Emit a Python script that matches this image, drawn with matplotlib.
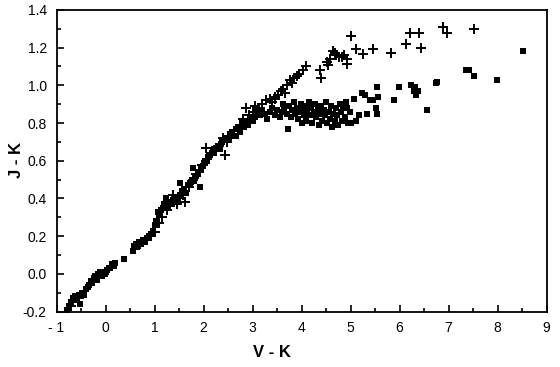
import matplotlib
matplotlib.use("Agg")
import matplotlib.pyplot as plt
from matplotlib.ticker import MultipleLocator, FixedLocator

# Squares (filled) : V-K, J-K
vk_sq = [-0.78, -0.74, -0.70, -0.66, -0.62, -0.58, -0.55, -0.52, -0.50, -0.47, -0.44, -0.40,
         -0.36, -0.33, -0.30, -0.27, -0.24, -0.21, -0.18, -0.15, -0.12, -0.08, -0.05, -0.02,
         0.02, 0.06, 0.10, 0.13, 0.17, 0.20, 0.37, 0.55, 0.58, 0.62, 0.65, 0.68, 0.72, 0.76,
         0.80, 0.84, 0.88, 0.92, 0.96, 1.00, 1.03, 1.07, 1.10, 1.13, 1.17, 1.20, 1.23, 1.26,
         1.30, 1.33, 1.37, 1.40, 1.44, 1.48, 1.52, 1.52, 1.56, 1.60, 1.64, 1.68, 1.72, 1.76,
         1.79, 1.80, 1.84, 1.88, 1.92, 1.94, 1.98, 2.02, 2.06, 2.10, 2.14, 2.18, 2.22, 2.26,
         2.30, 2.34, 2.38, 2.42, 2.46, 2.50, 2.54, 2.58, 2.62, 2.66, 2.70, 2.74, 2.78, 2.82,
         2.86, 2.90, 2.95, 3.00,
         3.05, 3.10, 3.15, 3.20, 3.25, 3.30, 3.35, 3.40, 3.45, 3.50, 3.55, 3.60, 3.62, 3.65,
         3.70, 3.73, 3.75, 3.78, 3.80, 3.84, 3.86, 3.90, 3.92, 3.95, 3.98, 4.00, 4.02, 4.05,
         4.08, 4.10, 4.12, 4.15, 4.18, 4.20, 4.22, 4.25, 4.28, 4.30, 4.33, 4.35, 4.38, 4.40,
         4.42, 4.45, 4.48, 4.50, 4.52, 4.55, 4.58, 4.60, 4.62, 4.65, 4.68, 4.70, 4.72, 4.75,
         4.78, 4.80, 4.82, 4.85, 4.88, 4.90, 4.92, 4.95, 4.98, 5.01, 5.07, 5.11, 5.18, 5.23,
         5.30, 5.34, 5.39, 5.45, 5.52, 5.54, 5.54, 5.57, 5.88, 5.99, 6.24, 6.29, 6.32, 6.33,
         6.37, 6.55, 6.74, 6.77, 7.35, 7.41, 7.52, 7.99, 8.52]
jk_sq = [-0.19, -0.17, -0.15, -0.13, -0.12, -0.14, -0.11, -0.16, -0.12, -0.10, -0.11, -0.08,
         -0.07, -0.06, -0.04, -0.05, -0.02, -0.01, -0.03, 0.00, 0.01, -0.01, 0.01, 0.00,
         0.02, 0.03, 0.03, 0.05, 0.04, 0.06, 0.08, 0.12, 0.15, 0.16, 0.14, 0.17, 0.16, 0.18,
         0.17, 0.19, 0.20, 0.21, 0.23, 0.26, 0.28, 0.33, 0.31, 0.34, 0.35, 0.37, 0.40, 0.36,
         0.38, 0.37, 0.39, 0.40, 0.41, 0.38, 0.42, 0.48, 0.44, 0.45, 0.43, 0.47, 0.48, 0.50,
         0.56, 0.49, 0.52, 0.53, 0.46, 0.55, 0.57, 0.59, 0.60, 0.62, 0.63, 0.64, 0.66, 0.67,
         0.68, 0.66, 0.70, 0.71, 0.72, 0.71, 0.74, 0.75, 0.73, 0.77, 0.78, 0.76, 0.80, 0.78,
         0.81, 0.79, 0.82, 0.81,
         0.83, 0.86, 0.84, 0.87, 0.85, 0.82, 0.86, 0.88, 0.84, 0.87, 0.83, 0.86, 0.90, 0.88,
         0.85, 0.77, 0.89, 0.83, 0.87, 0.91, 0.85, 0.88, 0.82, 0.86, 0.90, 0.80, 0.87, 0.84,
         0.89, 0.81, 0.86, 0.91, 0.84, 0.88, 0.80, 0.86, 0.90, 0.83, 0.87, 0.79, 0.85, 0.89,
         0.81, 0.87, 0.84, 0.91, 0.80, 0.86, 0.82, 0.89, 0.78, 0.85, 0.81, 0.88, 0.84, 0.79,
         0.90, 0.86, 0.81, 0.88, 0.83, 0.91, 0.88, 0.80, 0.86, 0.80, 0.93, 0.81, 0.84, 0.96,
         0.95, 0.85, 0.92, 0.92, 0.88, 0.85, 0.99, 0.94, 0.92, 0.99, 1.00, 0.97, 0.99, 0.95,
         0.97, 0.87, 1.01, 1.02, 1.08, 1.08, 1.05, 1.03, 1.18]

# Plus signs : V-K, J-K
vk_plus = [-0.70, -0.45, -0.25, -0.10, 0.05, 0.70, 0.85, 1.00, 1.10, 1.15, 1.25, 1.32, 1.38,
           1.45, 1.50, 1.58, 1.62, 1.70, 1.78, 1.85, 1.90, 1.96, 2.05, 2.08, 2.15, 2.25, 2.32,
           2.43, 2.40, 2.48, 2.55, 2.62, 2.70, 2.75, 2.80, 2.86, 2.92, 3.00, 3.05, 3.12, 3.20,
           3.28, 3.35, 3.40, 3.46,
           3.45, 3.52, 3.58, 3.62, 3.66, 3.70, 3.76, 3.80, 3.85, 3.90, 3.95, 4.03, 4.10, 4.37,
           4.39, 4.51, 4.54, 4.58, 4.64, 4.68, 4.71, 4.76, 4.82, 4.87, 4.92, 4.92, 5.00, 5.12,
           5.26, 5.45, 5.82, 6.14, 6.22, 6.40, 6.43, 6.89, 6.96, 7.52]
jk_plus = [-0.17, -0.09, -0.04, 0.00, 0.02, 0.16, 0.18, 0.22, 0.27, 0.30, 0.34, 0.36, 0.42,
           0.37, 0.40, 0.42, 0.38, 0.46, 0.50, 0.53, 0.55, 0.58, 0.67, 0.61, 0.64, 0.65, 0.68,
           0.63, 0.72, 0.70, 0.73, 0.76, 0.74, 0.79, 0.82, 0.88, 0.84, 0.86, 0.89, 0.88, 0.90,
           0.92, 0.93, 0.91, 0.94,
           0.93, 0.95, 0.97, 0.98, 0.96, 1.00, 1.03, 1.01, 1.04, 1.05, 1.06, 1.08, 1.10, 1.08,
           1.04, 1.125, 1.107, 1.14, 1.18, 1.17, 1.16, 1.15, 1.15, 1.16, 1.14, 1.115, 1.26, 1.195,
           1.167, 1.195, 1.174, 1.217, 1.28, 1.28, 1.20, 1.31, 1.28, 1.30]

x_ticks = [-1, 0, 1, 2, 3, 4, 5, 6, 7, 8, 9]
x_ticklabels = ["- 1", "0", "1", "2", "3", "4", "5", "6", "7", "8", "9"]
y_ticks = [-0.2, 0.0, 0.2, 0.4, 0.6, 0.8, 1.0, 1.2, 1.4]
y_ticklabels = ["-0.2", "0.0", "0.2", "0.4", "0.6", "0.8", "1.0", "1.2", "1.4"]

plt.rcParams['font.family'] = ['Liberation Sans', 'DejaVu Sans']

fig = plt.figure(figsize=(5.6, 3.67), dpi=100)
ax = fig.add_axes([0.101, 0.151, 0.875, 0.822])

ax.scatter(vk_sq, jk_sq, marker='s', s=18, c='black', linewidths=0, zorder=3)
ax.scatter(vk_plus, jk_plus, marker='+', s=45, c='black', linewidths=1.4, zorder=3)

ax.set_xlim(-1, 9)
ax.set_ylim(-0.2, 1.4)
ax.xaxis.set_major_locator(FixedLocator(x_ticks))
ax.set_xticklabels(x_ticklabels)
ax.yaxis.set_major_locator(FixedLocator(y_ticks))
ax.set_yticklabels(y_ticklabels)
ax.xaxis.set_minor_locator(MultipleLocator(0.5))
ax.yaxis.set_minor_locator(MultipleLocator(0.1))
ax.tick_params(which='both', direction='in', width=1.2, labelsize=10)
ax.tick_params(which='major', length=5, pad=7)
ax.tick_params(which='minor', length=3)
for s in ax.spines.values():
    s.set_linewidth(1.3)

ax.set_xlabel("V - K", fontsize=12, fontweight='bold')
ax.set_ylabel("J - K", fontsize=12, fontweight='bold')
ax.xaxis.set_label_coords(0.44, -0.134)
ax.yaxis.set_label_coords(-0.081, 0.503)
ax.xaxis.label.set_va('center')
ax.yaxis.label.set_va('center')

fig.savefig("out.png", dpi=100)
